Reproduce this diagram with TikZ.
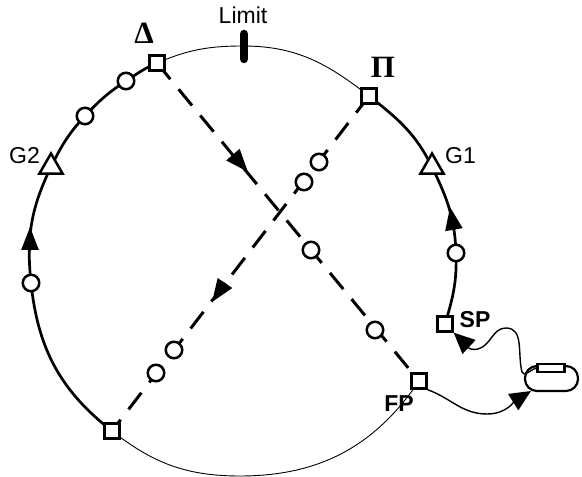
\documentclass[tikz,border=0pt]{standalone}
\usepackage{fontspec}
\setmainfont{Liberation Sans}
\newfontfamily\symbfont{Liberation Serif}
\usetikzlibrary{arrows.meta,shapes.geometric}
\tikzset{
	box/.style={draw, fill=white, line width=2.4pt, minimum size=15pt, inner sep=0pt},
	stop/.style={draw, fill=white, circle, line width=2.5pt, minimum size=16.5pt, inner sep=0pt},
	gate/.style={draw, fill=white, regular polygon, regular polygon sides=3, line width=2.5pt, minimum size=27pt, inner sep=0pt},
	thick line/.style={line width=2.7pt},
	thin line/.style={line width=0.9pt},
	jump/.style={line width=3pt, dash pattern=on 21pt off 13pt},
	wire/.style={line width=1.4pt},
	tip/.style={-{Triangle[length=23pt,width=17pt]}, line width=2.7pt},
	wiretip/.style={-{Triangle[length=21pt,width=19pt]}, line width=1.4pt},
	lab/.style={font=\fontsize{23}{25}\selectfont, inner sep=0pt},
	boldlab/.style={font=\fontsize{23}{25}\selectfont\bfseries, inner sep=0pt},
	symb/.style={font=\fontsize{31}{33}\selectfont\symbfont\bfseries, inner sep=0pt}
}

\begin{document}
\begin{tikzpicture}[x=1pt,y=1pt]
	%%%%% START %%%%%
	\useasboundingbox (0,0) rectangle (582,477);

	\coordinate (top) at (243,431);
	\coordinate (bottom) at (240,1);

	% dashed chords
	\coordinate (delta) at (157,414);
	\coordinate (pi) at (369,381);
	\coordinate (low) at (112,46);
	\coordinate (fp) at (419,96);
	\draw[jump] (delta) -- (fp);
	\draw[jump] (pi) -- (low);

	% outer loop
	\draw[thin line] (pi) to[out=142,in=0] (top) to[out=180,in=23] (delta);
	\draw[thin line] (low) to[out=-38,in=180] (bottom) to[out=0,in=236] (fp);
	\draw[thick line] (delta) to[out=203,in=33] (126,396) to[out=213,in=47] (85,361) to[out=227,in=64] (51,310)
		to[out=244,in=96] (31,194) to[out=276,in=142] (low);
	\coordinate (sp) at (445,153);
	\draw[thick line] (sp) to[out=73,in=272] (456,224) to[out=92,in=296] (432,310) to[out=116,in=322] (pi);

	% arrows
	\draw[tip] (30,226) -- (30,250);
	\draw[tip] (454,247) -- (450,270);
	\draw[tip] (235,320) -- (248,305);
	\draw[tip] (225,194) -- (212,175);

	% squares
	\node[box] (deltabox) at (delta) {};
	\node[box] (pibox) at (pi) {};
	\node[box] (lowbox) at (low) {};
	\node[box] (fpbox) at (fp) {};
	\node[box] (spbox) at (sp) {};

	% stops
	\node[stop] (s1) at (126,396) {};
	\node[stop] (s2) at (85,361) {};
	\node[stop] (s3) at (31,194) {};
	\node[stop] (s4) at (456,224) {};
	\node[stop] (s5) at (319,315) {};
	\node[stop] (s6) at (304,295) {};
	\node[stop] (s7) at (311,227) {};
	\node[stop] (s8) at (375,147) {};
	\node[stop] (s9) at (174,127) {};
	\node[stop] (s10) at (156,104) {};

	\node[gate] (g2) at (51,310) {};
	\node[gate] (g1) at (432,310) {};

	% limit
	\coordinate (limita) at (244,443);
	\coordinate (limitb) at (244,418);
	\draw[line width=8.5pt, line cap=round] (limita) -- (limitb);

	% device
	\node[draw, line width=2.2pt, minimum width=53pt, minimum height=25pt, rounded corners=12pt, inner sep=0pt] (pill) at (551.5,98.5) {};
	\node[draw, fill=white, line width=2.2pt, minimum width=27pt, minimum height=8pt, inner sep=0pt] (bar) at (551,109) {};
	\coordinate (pilltip) at (531,86);

	% wires
	\draw[wire] (bar.west) to[out=195,in=-75] (522,105) to[out=105,in=0] (506,149) to[out=180,in=15] (478,128);
	\draw[wiretip] (478,128) to[out=195,in=-43] (spbox.south east);
	\draw[wire] (fpbox.south east) to[out=-20,in=180] (487,63);
	\draw[wiretip] (487,63) to[out=0,in=212] (pilltip);

	% labels
	\node[lab] (limit) at (243,462) {Limit};
	\node[lab] (g2lab) at (24.5,321.5) {G2};
	\node[lab] (g1lab) at (460.5,321) {G1};
	\node[boldlab] (splab) at (475,157) {SP};
	\node[boldlab] (fplab) at (399,73) {FP};
	\node[symb] (deltalab) at (144,444) {Δ};
	\node[symb] (pilab) at (383,410) {Π};
	%%%%% END %%%%%
\end{tikzpicture}
\end{document}
